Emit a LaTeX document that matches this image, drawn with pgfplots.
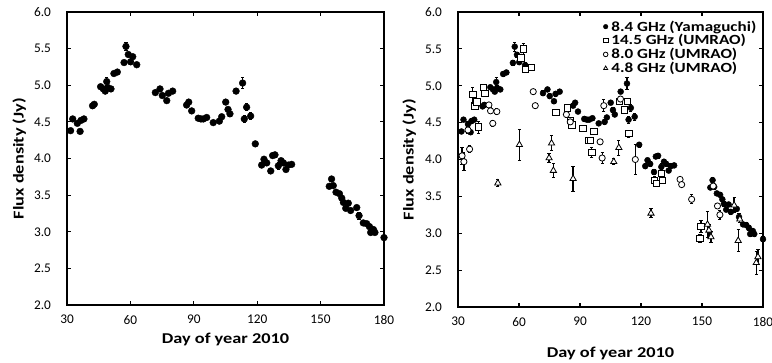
\documentclass[border=0pt]{standalone}
\usepackage{fontspec}
\setmainfont{Carlito}
\newfontfamily\labfont{Carlito}[FakeStretch=1.22]
\usepackage{pgfplots}
\usepackage{pgfplotstable}
\pgfplotsset{compat=1.18}

\pgfplotstableread{
x y e
31.7 4.38 0.03
32.7 4.54 0.03
34.9 4.48 0.03
36.2 4.37 0.03
36.6 4.52 0.03
38.0 4.54 0.03
42.1 4.72 0.03
42.9 4.74 0.03
45.9 4.98 0.03
47.2 4.95 0.03
48.1 4.92 0.03
48.8 5.05 0.06
49.2 4.97 0.03
50.8 4.95 0.03
52.2 5.16 0.03
53.8 5.18 0.03
57.0 5.31 0.03
57.9 5.53 0.06
59.0 5.42 0.03
60.1 5.32 0.03
61.1 5.39 0.03
63.0 5.28 0.03
71.8 4.90 0.03
74.0 4.95 0.03
75.1 4.86 0.03
77.2 4.79 0.03
78.0 4.89 0.03
80.0 4.92 0.03
86.6 4.73 0.03
87.6 4.77 0.03
89.0 4.65 0.03
92.1 4.55 0.03
93.4 4.54 0.03
94.5 4.54 0.03
96.1 4.56 0.03
99.2 4.49 0.03
102.1 4.51 0.03
103.2 4.57 0.03
105.1 4.77 0.03
106.2 4.67 0.03
107.1 4.61 0.03
110.0 4.92 0.03
113.1 5.03 0.08
113.9 4.54 0.05
115.0 4.70 0.05
116.9 4.58 0.05
119.1 4.20 0.03
122.1 3.91 0.03
123.2 3.99 0.03
124.5 3.94 0.03
126.4 3.83 0.03
127.3 4.04 0.03
128.4 4.05 0.03
130.0 3.90 0.05
131.3 3.97 0.03
132.4 3.94 0.03
133.6 3.85 0.03
134.7 3.91 0.03
136.3 3.92 0.03
154.1 3.62 0.03
155.2 3.72 0.03
156.0 3.63 0.03
157.3 3.54 0.03
158.9 3.52 0.03
160.0 3.46 0.03
160.8 3.40 0.03
161.9 3.32 0.03
163.1 3.39 0.03
164.2 3.29 0.03
167.1 3.33 0.03
168.2 3.22 0.05
170.2 3.12 0.03
171.8 3.11 0.03
173.1 3.07 0.03
173.7 2.99 0.03
175.0 3.03 0.03
175.7 2.99 0.03
180.0 2.92 0.03
}\yamaguchi

\pgfplotstableread{
x y e
37.3 4.88 0.10
38.3 4.72 0.04
39.3 4.78 0.04
40.0 4.44 0.08
42.5 4.98 0.04
43.3 4.90 0.04
61.0 5.38 0.05
62.1 5.50 0.08
63.0 5.22 0.04
66.2 5.25 0.04
78.1 4.64 0.03
83.8 4.70 0.04
85.2 4.53 0.04
86.1 4.47 0.04
91.4 4.42 0.04
94.0 4.26 0.04
95.1 4.26 0.04
95.8 4.10 0.07
96.9 4.38 0.04
109.4 4.79 0.04
111.9 4.67 0.04
113.2 4.79 0.04
114.0 4.35 0.05
126.7 3.72 0.05
127.5 3.68 0.05
130.0 3.81 0.05
130.6 3.72 0.05
149.0 2.93 0.05
149.5 3.09 0.08
}\umsq

\pgfplotstableread{
x y e
32.0 4.05 0.12
32.9 3.97 0.12
34.9 4.40 0.04
35.7 4.14 0.05
45.2 4.74 0.04
46.0 4.66 0.04
47.1 4.49 0.04
49.1 4.65 0.04
67.0 4.92 0.03
68.0 4.73 0.03
83.3 4.61 0.04
85.2 4.51 0.04
99.9 4.24 0.03
100.9 4.02 0.08
101.7 4.73 0.08
109.9 4.82 0.03
117.2 4.00 0.20
139.2 3.73 0.03
140.0 3.66 0.03
144.9 3.46 0.06
155.5 3.64 0.03
157.6 3.37 0.04
158.8 3.25 0.06
}\umci

\pgfplotstableread{
x y e
49.6 3.68 0.05
60.2 4.20 0.21
74.8 4.02 0.06
76.0 4.22 0.10
76.9 3.85 0.10
86.6 3.74 0.17
106.6 3.97 0.04
109.1 4.16 0.10
124.9 3.27 0.06
152.7 3.12 0.18
153.4 3.04 0.08
154.4 2.95 0.08
165.8 3.38 0.10
167.8 2.90 0.15
168.6 3.19 0.05
176.7 2.60 0.16
177.5 2.68 0.10
}\umtr

\pgfplotsset{
  myax/.style={
    scale only axis, clip=false,
    xmin=30, xmax=180, ymin=2, ymax=6,
    xtick={30,60,...,180}, ytick={2,2.5,...,6},
    tick align=inside, major tick length=4pt,
    axis line style={line width=1.6pt},
    every tick/.style={black, line width=1.2pt},
    /pgf/number format/assume math mode=true,
    yticklabel={\pgfmathprintnumber[fixed,fixed zerofill,precision=1]{\tick}},
    tick label style={font=\fontsize{13.3}{15}\selectfont},
    yticklabel style={xshift=-12.5pt},
    xticklabel style={yshift=-6.5pt},
    xlabel={Day of year 2010}, ylabel={Flux density (Jy)},
    error bars/error bar style={line width=1.3pt, black},
    error bars/error mark options={rotate=90, mark size=1.6pt, line width=0.9pt, black},
  }
}

\begin{document}
\begin{tikzpicture}
\useasboundingbox (0,0) rectangle (772pt,362pt);
% left panel
\begin{axis}[myax,
  at={(67pt,57pt)}, anchor=south west,
  width=317pt, height=293pt,
  every axis y label/.style={at={(axis description cs:-0.151,0.5)},rotate=90,anchor=center,
    font=\labfont\fontsize{15}{17}\selectfont\bfseries},
  every axis x label/.style={at={(axis description cs:0.5,0)},anchor=center,yshift=-34pt,
    font=\labfont\fontsize{15}{17}\selectfont\bfseries},
]
\addplot[only marks, mark=*, mark size=3.4pt, black,
  error bars/.cd, y dir=both, y explicit]
  table[x=x, y=y, y error=e] {\yamaguchi};
\end{axis}
% right panel
\begin{axis}[myax,
  at={(458pt,55pt)}, anchor=south west,
  width=305pt, height=295pt,
  every axis y label/.style={at={(axis description cs:-0.16,0.5)},rotate=90,anchor=center,
    font=\labfont\fontsize{15}{17}\selectfont\bfseries},
  every axis x label/.style={at={(axis description cs:0.5,0)},anchor=center,yshift=-46pt,
    font=\labfont\fontsize{15}{17}\selectfont\bfseries},
  legend style={at={(rel axis cs:1,1)}, anchor=north east, xshift=-5pt, yshift=-7pt,
    draw=none, fill=none, inner sep=0pt, row sep=-1pt,
    font=\labfont\fontsize{14}{16}\selectfont\bfseries,
    nodes={inner sep=1.5pt}},
  legend cell align=left,
  legend image code/.code={\draw[#1, mark size=2.3pt] plot coordinates {(0pt,0pt)}; \path (3.8pt,0pt);},
]
\addplot[only marks, mark=*, mark size=3pt, black,
  error bars/.cd, y dir=both, y explicit]
  table[x=x, y=y, y error=e] {\yamaguchi};
\addlegendentry{8.4 GHz (Yamaguchi)}
\addplot[only marks, mark=square*, mark size=3.2pt, draw=black, fill=white, line width=0.8pt,
  error bars/.cd, y dir=both, y explicit]
  table[x=x, y=y, y error=e] {\umsq};
\addlegendentry{14.5 GHz (UMRAO)}
\addplot[only marks, mark=*, mark size=3.1pt, draw=black, fill=white, line width=0.8pt,
  error bars/.cd, y dir=both, y explicit]
  table[x=x, y=y, y error=e] {\umci};
\addlegendentry{8.0 GHz (UMRAO)}
\addplot[only marks, mark=triangle*, mark size=3.6pt, draw=black, fill=white, line width=0.8pt,
  error bars/.cd, y dir=both, y explicit]
  table[x=x, y=y, y error=e] {\umtr};
\addlegendentry{4.8 GHz (UMRAO)}
\end{axis}
\end{tikzpicture}
\end{document}
